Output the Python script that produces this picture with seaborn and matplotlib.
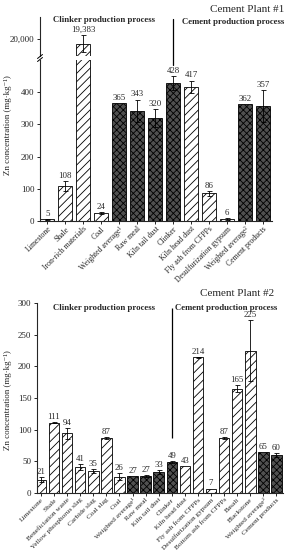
import matplotlib
matplotlib.use('Agg')
import matplotlib.pyplot as plt
import matplotlib.transforms as mtransforms
from matplotlib.lines import Line2D
import seaborn as sns

# Plant #1 data
labels1 = ['Limestone', 'Shale', 'Iron-rich materials', 'Coal', 'Weighted average¹',
           'Raw meal', 'Kiln tail dust', 'Clinker', 'Kiln head dust', 'Fly ash from CFPPs',
           'Desulfurization gypsum', 'Weighted average²', 'Cement products']
zn1 = [5, 108, 19383, 24, 365, 343, 320, 428, 417, 86, 6, 362, 357]
err1 = [1, 15, 1150, 3, 0, 34, 28, 22, 19, 8, 2, 0, 50]
dark1 = [0, 0, 0, 0, 1, 1, 1, 1, 0, 0, 0, 1, 1]

# Plant #2 data
labels2 = ['Limestone', 'Shale', 'Beneficiation waste', 'Yellow phosphorus slag', 'Carbide slag',
           'Coal slag', 'Coal', 'Weighted average¹', 'Raw meal', 'Kiln tail dust', 'Clinker',
           'Kiln head dust', 'Fly ash from CFPPs', 'Desulfurization gypsum', 'Bottom ash from CFPPs',
           'Basalt', 'Blackstone', 'Weighted average²', 'Cement products']
zn2 = [21, 111, 94, 41, 35, 87, 26, 27, 27, 33, 49, 43, 214, 7, 87, 165, 225, 65, 60]
err2 = [4, 1, 9, 5, 3, 2, 6, 0, 1, 3, 1, 0, 1, 0, 2, 6, 48, 0, 3]
dark2 = [0, 0, 0, 0, 0, 0, 0, 1, 1, 1, 1, 0, 0, 0, 0, 0, 0, 1, 1]

sns.set_style('ticks')
plt.rcParams['font.family'] = ['Liberation Serif', 'DejaVu Serif']
plt.rcParams['hatch.linewidth'] = 0.6
plt.rcParams['axes.linewidth'] = 0.8

W, H = 290, 550
fig = plt.figure(figsize=(2.9, 5.5), dpi=100)


def box(x0, y0, x1, y1):
    # pixel box (top-left origin) -> figure fraction
    return [x0 / W, 1 - y1 / H, (x1 - x0) / W, (y1 - y0) / H]


def draw_bars(ax, labels, vals, errs, darks, width, lo, hi):
    sns.barplot(x=labels, y=vals, color='white', edgecolor='black', linewidth=0.6,
                width=width, ax=ax, errorbar=None)
    for p, d in zip(ax.patches, darks):
        if d:
            p.set_facecolor('#505050')
            p.set_hatch('xxxxx')
        else:
            p.set_facecolor('white')
            p.set_hatch('////')
    for i, (v, e) in enumerate(zip(vals, errs)):
        if e > 0:
            ax.errorbar(i, v, yerr=e, fmt='none', ecolor='black', elinewidth=0.6,
                        capsize=1.8, capthick=0.6)
        if lo <= v <= hi:
            ax.annotate(f'{v:,}', (i, v + e), xytext=(0, 0.8), textcoords='offset points',
                        ha='center', va='bottom', fontsize=6.3)


# ---- Cement Plant #1 (broken axis) ----
ax_up = fig.add_axes(box(40, 17, 272, 56))
ax_lo = fig.add_axes(box(40, 60, 272, 221))

draw_bars(ax_up, labels1, zn1, err1, dark1, 0.78, 17700, 23000)
draw_bars(ax_lo, labels1, zn1, err1, dark1, 0.78, 0, 500)

ax_up.set_ylim(17700, 23000)
ax_up.set_yticks([20000])
ax_up.set_yticklabels(['20,000'])
ax_lo.set_ylim(0, 500)
ax_lo.set_yticks([0, 100, 200, 300, 400])
for a in (ax_up, ax_lo):
    a.set_xlim(-0.4, 12.5)
    a.spines['right'].set_visible(False)
    a.spines['top'].set_visible(False)
    a.tick_params(axis='y', labelsize=6.5, length=2.5, width=0.7, pad=1.5)
ax_up.spines['bottom'].set_visible(False)
ax_up.tick_params(axis='x', bottom=False, labelbottom=False)
ax_up.set_xlabel('')
ax_lo.tick_params(axis='x', labelsize=5.6, length=2, width=0.7, pad=1)
plt.setp(ax_lo.get_xticklabels(), rotation=45, ha='right', rotation_mode='anchor')

# break marks
for yy in (56.5, 59.5):
    fig.add_artist(Line2D([37.5 / W, 42.5 / W], [1 - (yy + 2) / H, 1 - (yy - 2) / H],
                          color='black', lw=0.7))

tr1 = mtransforms.blended_transform_factory(ax_lo.transData, fig.transFigure)
fig.add_artist(Line2D([7, 7], [1 - 19 / H, 1 - 65 / H], transform=tr1, color='black', lw=0.9))

fig.text(284 / W, 1 - 9 / H, 'Cement Plant #1', ha='right', va='center', fontsize=8)
fig.text(104 / W, 1 - 20 / H, 'Clinker production process', ha='center', va='center',
         fontsize=6.3, fontweight='bold')
fig.text(233 / W, 1 - 22 / H, 'Cement production process', ha='center', va='center',
         fontsize=6.3, fontweight='bold')
fig.text(8 / W, 1 - 125 / H, 'Zn concentration (mg·kg⁻¹)', rotation=90, ha='center',
         va='center', fontsize=6.5)

# ---- Cement Plant #2 ----
ax2 = fig.add_axes(box(37, 303, 283, 493))
draw_bars(ax2, labels2, zn2, err2, dark2, 0.8, 0, 300)
ax2.set_ylim(0, 300)
ax2.set_yticks([0, 50, 100, 150, 200, 250, 300])
ax2.set_xlim(-0.3, 18.5)
ax2.spines['right'].set_visible(False)
ax2.spines['top'].set_visible(False)
ax2.tick_params(axis='y', labelsize=6.5, length=2.5, width=0.7, pad=1.5)
ax2.tick_params(axis='x', labelsize=5.2, length=2, width=0.7, pad=1)
plt.setp(ax2.get_xticklabels(), rotation=45, ha='right', rotation_mode='anchor')
ax2.vlines(10, 87, 292, color='black', lw=0.9, clip_on=False)

fig.text(274 / W, 1 - 293 / H, 'Cement Plant #2', ha='right', va='center', fontsize=8)
fig.text(104 / W, 1 - 308 / H, 'Clinker production process', ha='center', va='center',
         fontsize=6.3, fontweight='bold')
fig.text(226 / W, 1 - 308 / H, 'Cement production process', ha='center', va='center',
         fontsize=6.3, fontweight='bold')
fig.text(8 / W, 1 - 400 / H, 'Zn concentration (mg·kg⁻¹)', rotation=90, ha='center',
         va='center', fontsize=6.5)

fig.savefig('out.png', dpi=100)
